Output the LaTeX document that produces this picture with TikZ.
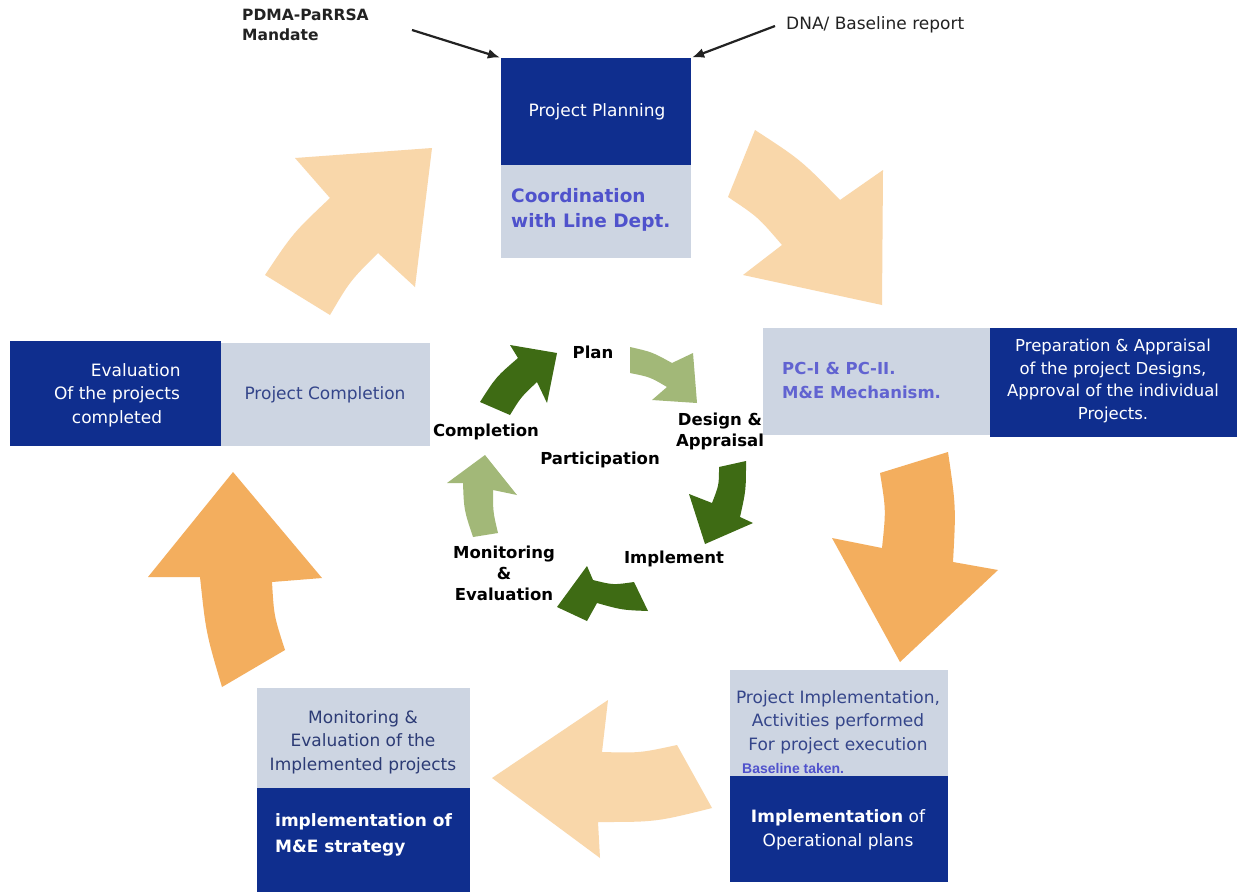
\documentclass[tikz,border=0pt]{standalone}
\usepackage{fontspec}
\setmainfont{DejaVu Sans}
\newfontfamily\narrowfont{Liberation Sans}
\usetikzlibrary{arrows.meta}

\definecolor{navy}{HTML}{0F2E8E}
\definecolor{paleblue}{HTML}{CDD5E2}
\definecolor{peach}{HTML}{F9D7AA}
\definecolor{amber}{HTML}{F3AE5E}
\definecolor{leaf}{HTML}{3E6B14}
\definecolor{sage}{HTML}{A2B878}
\definecolor{boxtxt}{HTML}{34458A}
\definecolor{accent}{HTML}{4F52CC}
\definecolor{ink}{HTML}{222222}

\tikzset{
  darkbox/.style={fill=navy, draw=none, inner sep=0pt},
  lightbox/.style={fill=paleblue, draw=none, inner sep=0pt},
  whitetext/.style={text=white, inner sep=0pt, font=\fontsize{17}{23.5}\selectfont},
  greytext/.style={text=boxtxt, inner sep=0pt, font=\fontsize{17}{23.5}\selectfont},
  cyclelabel/.style={text=black, inner sep=0pt, align=center, font=\bfseries\fontsize{16.5}{21}\selectfont},
  inputlabel/.style={text=ink, inner sep=0pt},
  feed/.style={draw=ink, line width=2.2pt, -{Latex[length=12pt,width=10pt]}},
}

\begin{document}
\begin{tikzpicture}[x=1pt,y=-1pt]
\useasboundingbox (0,0) rectangle (1241,892);
\fill[white] (0,0) rectangle (1241,892);

% ---- outer cycle of broad arrows ----
% completion -> planning
\fill[peach] (265,275) .. controls (293,233) .. (330,198) -- (295,158) -- (432,148)
  -- (415,287) -- (378,253) .. controls (350,281) .. (330,315) -- cycle;
% planning -> design
\fill[peach] (755,130) .. controls (801,160) .. (840,200) -- (883,170) -- (882,305)
  -- (743,275) -- (782,245) .. controls (758,217) .. (728,197) -- cycle;
% design -> implementation
\fill[amber] (880,473) -- (948,452) .. controls (956,507) .. (953,562) -- (998,570)
  -- (900,662) -- (832,538) -- (882,548) .. controls (886,510) .. (880,473) -- cycle;
% implementation -> monitoring
\fill[peach] (492,778) -- (608,700) -- (602,752) .. controls (640,753) .. (677,745)
  -- (712,808) .. controls (656,822) .. (598,822) -- (600,858) -- cycle;
% monitoring -> completion
\fill[amber] (233,472) -- (322,578) -- (272,582) .. controls (274,616) .. (285,650)
  -- (222,687) .. controls (206,633) .. (200,577) -- (148,577) -- cycle;

% ---- inner cycle of small arrows ----
\fill[leaf] (480,402) .. controls (496,377) .. (518,358) -- (510,345) -- (557,353)
  -- (547,403) -- (537,382) .. controls (521,397) .. (510,415) -- cycle;
\fill[sage] (630,347) .. controls (652,352) .. (672,363) -- (693,353) -- (697,403)
  -- (652,400) -- (667,387) .. controls (650,377) .. (630,373) -- cycle;
\fill[leaf] (719,467) -- (746,461) .. controls (746,490) .. (740,517) -- (753,523)
  -- (705,544) -- (689,494) -- (712,503) .. controls (719,485) .. (719,467) -- cycle;
\fill[leaf] (557,607) -- (587,566) -- (593,580) .. controls (613,585) .. (634,582)
  -- (648,611) .. controls (622,610) .. (597,603) -- (587,621) -- cycle;
\fill[sage] (485,455) -- (517,495) -- (493,490) .. controls (493,512) .. (498,533)
  -- (473,537) .. controls (464,510) .. (463,483) -- (447,483) -- cycle;

% ---- inner cycle labels ----
\node[cyclelabel] (lplan) at (593,352) {Plan};
\node[cyclelabel] (ldesign) at (720,431) {Design \&\\Appraisal};
\node[cyclelabel] (lcompl) at (486,432) {Completion};
\node[cyclelabel] (lpart) at (600,460) {Participation};
\node[cyclelabel] (limpl) at (674,559) {Implement};
\node[cyclelabel] (lmon) at (504,573) {Monitoring\\\&\\Evaluation};

% ---- project planning ----
\node[darkbox, minimum width=190pt, minimum height=107pt] (plan) at (596,111.5) {};
\node[lightbox, minimum width=190pt, minimum height=93pt] (coord) at (596,211.5) {};
\node[whitetext] (plantxt) at (597,112) {Project Planning};
\node[text=accent, inner sep=0pt, anchor=west, align=left,
      font=\bfseries\fontsize{18.5}{25}\selectfont] (coordtxt) at (511,210) {Coordination\\with Line Dept.};

% ---- design and appraisal ----
\node[lightbox, minimum width=227pt, minimum height=107pt] (pc) at (876.5,381.5) {};
\node[darkbox, minimum width=247pt, minimum height=109pt] (prep) at (1113.5,382.5) {};
\node[text=accent!90!white, inner sep=0pt, anchor=west, align=left,
      font=\bfseries\fontsize{16.5}{24}\selectfont] (pctxt) at (782,380) {PC-I \& PC-II.\\M\&E Mechanism.};
\node[whitetext, align=center, font=\fontsize{16.5}{22.5}\selectfont] (preptxt) at (1113,381)
  {Preparation \& Appraisal\\of the project Designs,\\Approval of the individual\\Projects.};

% ---- implementation ----
\node[lightbox, minimum width=218pt, minimum height=106pt] (exec) at (839,723) {};
\node[darkbox, minimum width=218pt, minimum height=106pt] (oper) at (839,829) {};
\node[greytext, align=center] (exectxt) at (838,722)
  {Project Implementation,\\Activities performed\\For project execution};
\node[text=accent, inner sep=0pt, anchor=west, font=\narrowfont\bfseries\fontsize{14}{16}\selectfont]
  (basetxt) at (742,768) {Baseline taken.};
\node[whitetext, align=center] (opertxt) at (838,830)
  {\textbf{Implementation} of\\Operational plans};

% ---- monitoring and evaluation ----
\node[lightbox, minimum width=213pt, minimum height=100pt] (monit) at (363.5,738) {};
\node[darkbox, minimum width=213pt, minimum height=104pt] (mestrat) at (363.5,840) {};
\node[greytext, align=center, text=boxtxt!85!black] (monittxt) at (363,742)
  {Monitoring \&\\Evaluation of the\\Implemented projects};
\node[whitetext, anchor=west, align=left, font=\bfseries\fontsize{17}{26}\selectfont]
  (mestrattxt) at (275,835) {implementation of\\M\&E strategy};

% ---- completion ----
\node[darkbox, minimum width=211pt, minimum height=105pt] (evalc) at (115.5,393.5) {};
\node[lightbox, minimum width=209pt, minimum height=103pt] (compl) at (325.5,394.5) {};
\node[whitetext, align=center] (evalctxt) at (117,395)
  {\hspace*{2.2em}Evaluation\\Of the projects\\completed};
\node[greytext] (compltxt) at (325,395) {Project Completion};

% ---- inputs to planning ----
\node[inputlabel, anchor=north west, align=left, font=\bfseries\fontsize{15.5}{20}\selectfont]
  (pdma) at (242,9) {PDMA-PaRRSA\\Mandate};
\node[inputlabel, anchor=west, font=\fontsize{17}{20}\selectfont] (dna) at (786,25) {DNA/ Baseline report};
\coordinate (pdmaend) at (412,30);
\coordinate (dnaend) at (775,26);
\draw[feed, shorten >=1pt] (pdmaend) -- (plan.north west);
\draw[feed, shorten >=1pt] (dnaend) -- (plan.north east);
\end{tikzpicture}
\end{document}
